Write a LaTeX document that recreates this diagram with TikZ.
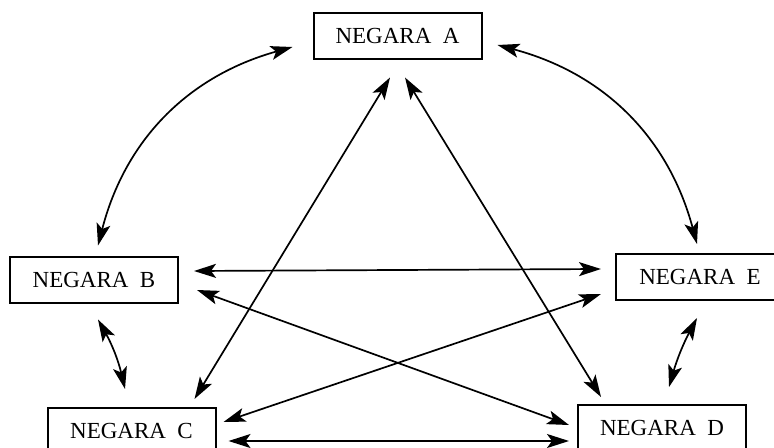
\documentclass[tikz,border=0pt]{standalone}
\usepackage{fontspec}
\setmainfont{Liberation Serif}
\usepackage{tikz}
\usetikzlibrary{arrows.meta}

\tikzset{
    negara/.style={draw, line width=1pt, rectangle, minimum width=84pt, minimum height=23pt,
        inner sep=0pt, font=\fontsize{11.5}{13}\selectfont},
    link/.style={line width=0.85pt, {Stealth[length=11pt, width=7pt, inset=2.5pt]}-{Stealth[length=11pt, width=7pt, inset=2.5pt]}}
}

\newcommand{\negaraname}[1]{NEGARA\hspace{0.5em}#1}

\begin{document}
\begin{tikzpicture}[x=0.5pt, y=-0.5pt]
    \useasboundingbox (0, 0) rectangle (774, 448);

    \node[negara] at (397.5, 36.5) (NA) {\negaraname{A}};
    \node[negara] at (94, 279.5) (NB) {\negaraname{B}};
    \node[negara] at (131.5, 431) (NC) {\negaraname{C}};
    \node[negara] at (662, 428) (ND) {\negaraname{D}};
    \node[negara] at (700, 277) (NE) {\negaraname{E}};

    \draw[link] ([shift={(-20, 10.5)}]NA.west) to[bend right=30] ([shift={(4, -10)}]NB.north);
    \draw[link] ([shift={(15, 8.5)}]NA.east) to[bend left=30] ([shift={(-3, -9)}]NE.north);
    \draw[link] ([shift={(-7.5, 17)}]NA.south) -- ([shift={(-22, -8)}]NC.north east);
    \draw[link] ([shift={(7.5, 17)}]NA.south) -- ([shift={(24, -7)}]ND.north west);
    \draw[link] ([shift={(15, -8.5)}]NB.east) -- ([shift={(-14, -8)}]NE.west);
    \draw[link] ([shift={(18, 10.5)}]NB.east) -- ([shift={(-8, -3)}]ND.west);
    \draw[link] ([shift={(7, -9)}]NC.east) -- ([shift={(-14, 17)}]NE.west);
    \draw[link] ([shift={(12, 10)}]NC.east) -- ([shift={(-8, 13)}]ND.west);
    \draw[link] ([shift={(4, 16)}]NB.south) to[bend left=8] ([shift={(-6.5, -18)}]NC.north);
    \draw[link] ([shift={(-3, 17)}]NE.south) to[bend right=6] ([shift={(7, -17)}]ND.north);
\end{tikzpicture}
\end{document}
